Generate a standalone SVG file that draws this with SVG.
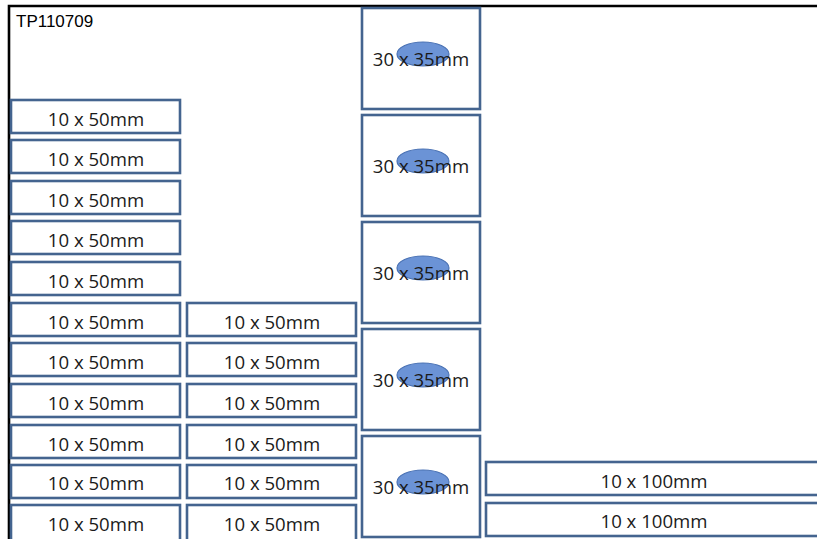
<svg xmlns="http://www.w3.org/2000/svg" width="817" height="539" viewBox="0 0 817 539">
<style>
.b{fill:#fff;stroke:#44648f;stroke-width:2.6}
.t{font-family:"Open Sans","Noto Sans",sans-serif;font-size:18.6px;fill:#1a1a1a;text-anchor:middle}
.e{fill:#6b93d6;stroke:#4a72b4;stroke-width:1.2}
.f{stroke:#000;stroke-width:2.6;fill:none}
</style>
<rect width="817" height="539" fill="#fff"/>
<g id="frame">
<path class="f" d="M9 539V6H817"/>
<text x="16" y="27" font-family="Liberation Sans,Arial,sans-serif" font-size="17" fill="#000">TP110709</text>
</g>
<g id="col1">
<g id="a1"><rect class="b" x="11" y="100" width="169" height="33"/><text class="t" x="96" y="126">10 x 50mm</text></g>
<g id="a2"><rect class="b" x="11" y="140" width="169" height="33"/><text class="t" x="96" y="166">10 x 50mm</text></g>
<g id="a3"><rect class="b" x="11" y="181" width="169" height="33"/><text class="t" x="96" y="207">10 x 50mm</text></g>
<g id="a4"><rect class="b" x="11" y="221" width="169" height="33"/><text class="t" x="96" y="247">10 x 50mm</text></g>
<g id="a5"><rect class="b" x="11" y="262" width="169" height="33"/><text class="t" x="96" y="288">10 x 50mm</text></g>
<g id="a6"><rect class="b" x="11" y="303" width="169" height="33"/><text class="t" x="96" y="329">10 x 50mm</text></g>
<g id="a7"><rect class="b" x="11" y="343" width="169" height="33"/><text class="t" x="96" y="369">10 x 50mm</text></g>
<g id="a8"><rect class="b" x="11" y="384" width="169" height="33"/><text class="t" x="96" y="410">10 x 50mm</text></g>
<g id="a9"><rect class="b" x="11" y="425" width="169" height="33"/><text class="t" x="96" y="451">10 x 50mm</text></g>
<g id="a10"><rect class="b" x="11" y="465" width="169" height="33"/><text class="t" x="96" y="490">10 x 50mm</text></g>
<g id="a11"><rect class="b" x="11" y="505" width="169" height="36"/><text class="t" x="96" y="531">10 x 50mm</text></g>
</g>
<g id="col2">
<g id="b1"><rect class="b" x="187" y="303" width="169" height="33"/><text class="t" x="272" y="329">10 x 50mm</text></g>
<g id="b2"><rect class="b" x="187" y="343" width="169" height="33"/><text class="t" x="272" y="369">10 x 50mm</text></g>
<g id="b3"><rect class="b" x="187" y="384" width="169" height="33"/><text class="t" x="272" y="410">10 x 50mm</text></g>
<g id="b4"><rect class="b" x="187" y="425" width="169" height="33"/><text class="t" x="272" y="451">10 x 50mm</text></g>
<g id="b5"><rect class="b" x="187" y="465" width="169" height="33"/><text class="t" x="272" y="490">10 x 50mm</text></g>
<g id="b6"><rect class="b" x="187" y="505" width="169" height="36"/><text class="t" x="272" y="531">10 x 50mm</text></g>
</g>
<g id="col3">
<g id="c1"><rect class="b" x="362" y="8" width="118" height="101"/><ellipse class="e" cx="423" cy="54" rx="26" ry="12"/><text class="t" x="421" y="65.5">30 x 35mm</text></g>
<g id="c2"><rect class="b" x="362" y="115" width="118" height="101"/><ellipse class="e" cx="423" cy="161" rx="26" ry="12"/><text class="t" x="421" y="172.5">30 x 35mm</text></g>
<g id="c3"><rect class="b" x="362" y="222" width="118" height="101"/><ellipse class="e" cx="423" cy="268" rx="26" ry="12"/><text class="t" x="421" y="279.5">30 x 35mm</text></g>
<g id="c4"><rect class="b" x="362" y="329" width="118" height="101"/><ellipse class="e" cx="423" cy="375" rx="26" ry="12"/><text class="t" x="421" y="386.5">30 x 35mm</text></g>
<g id="c5"><rect class="b" x="362" y="436" width="118" height="101"/><ellipse class="e" cx="423" cy="482" rx="26" ry="12"/><text class="t" x="421" y="493.5">30 x 35mm</text></g>
</g>
<g id="col4">
<g id="d1"><rect class="b" x="486" y="462" width="340" height="33"/><text class="t" x="654" y="488">10 x 100mm</text></g>
<g id="d2"><rect class="b" x="486" y="503" width="340" height="33"/><text class="t" x="654" y="528">10 x 100mm</text></g>
</g>
<g id="connectors"/>
</svg>
